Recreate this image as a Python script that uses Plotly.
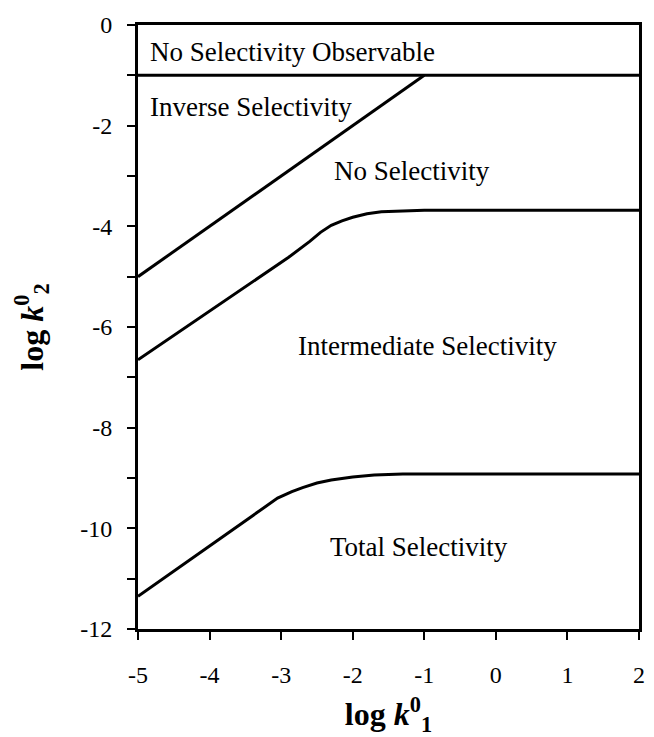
import plotly.graph_objects as go

FONT = "Liberation Serif"

# boundary between "observable" and "no selectivity observable"
obs_x = [-5, 2]
obs_y = [-1, -1]

# inverse / no selectivity boundary
inv_x = [-5, -1]
inv_y = [-5, -1]

# no / intermediate selectivity boundary
mid_x = [-5, -2.9, -2.6, -2.45, -2.3, -2.15, -2.0, -1.8, -1.6, -1.3, -1.0, 2]
mid_y = [-6.65, -4.62, -4.3, -4.12, -3.98, -3.89, -3.82, -3.75, -3.71, -3.69, -3.68, -3.68]

# intermediate / total selectivity boundary
low_x = [-5, -3.05, -2.85, -2.7, -2.5, -2.3, -2.0, -1.7, -1.3, 2]
low_y = [-11.35, -9.4, -9.27, -9.19, -9.1, -9.04, -8.98, -8.94, -8.92, -8.92]

region_labels = ["No Selectivity Observable", "Inverse Selectivity", "No Selectivity",
                 "Intermediate Selectivity", "Total Selectivity"]
label_x = [-4.86, -4.86, -2.29, -2.79, -2.35]
label_y = [-0.53, -1.63, -2.9, -6.38, -10.37]

x_ticks = [-5, -4, -3, -2, -1, 0, 1, 2]
x_ticktext = ["-5", "-4", "-3", "-2", "-1", "0", "1", "2"]
y_ticks = [0, -2, -4, -6, -8, -10, -12]
y_ticktext = ["0", "-2", "-4", "-6", "-8", "-10", "-12"]

fig = go.Figure()
for xs, ys in [(obs_x, obs_y), (inv_x, inv_y), (mid_x, mid_y), (low_x, low_y)]:
    fig.add_trace(go.Scatter(x=xs, y=ys, mode="lines",
                             line=dict(color="black", width=3), showlegend=False,
                             hoverinfo="skip"))

for text, tx, ty in zip(region_labels, label_x, label_y):
    fig.add_annotation(x=tx, y=ty, text=text, showarrow=False, xanchor="left",
                       yanchor="middle", font=dict(family=FONT, size=27, color="black"))

fig.update_layout(
    width=654, height=737,
    margin=dict(l=138, r=9, t=25, b=101),
    plot_bgcolor="white", paper_bgcolor="white",
    font=dict(family=FONT, size=24, color="black"),
)
fig.update_xaxes(
    range=[-5, 2], tickvals=x_ticks, ticktext=x_ticktext,
    showgrid=False, zeroline=False,
    showline=True, linecolor="black", linewidth=3, mirror=True,
    ticks="outside", ticklen=8, tickwidth=2, tickcolor="black",
    ticklabelstandoff=14,
    tickfont=dict(family=FONT, size=24),
    title=dict(text="<b>log <i>k</i><sup>0</sup><sub>1</sub></b>",
               font=dict(family=FONT, size=32), standoff=18),
)
fig.update_yaxes(
    range=[-12, 0], tickvals=y_ticks, ticktext=y_ticktext,
    showgrid=False, zeroline=False,
    showline=True, linecolor="black", linewidth=3, mirror=True,
    ticks="outside", ticklen=8, tickwidth=2, tickcolor="black",
    ticklabelstandoff=10,
    tickfont=dict(family=FONT, size=24),
    minor=dict(dtick=1, ticks="outside", ticklen=8, tickwidth=2, tickcolor="black", showgrid=False),
    title=dict(text="<b>log <i>k</i><sup>0</sup><sub>2</sub></b>",
               font=dict(family=FONT, size=32), standoff=28),
)

fig.write_html("out.html", config={"displayModeBar": False},
               post_script="document.body.style.margin='0';")
